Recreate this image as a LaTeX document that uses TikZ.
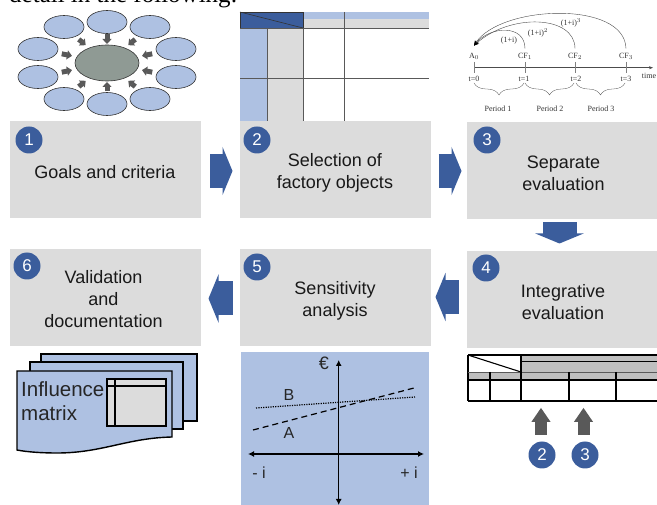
\documentclass[tikz,border=0pt]{standalone}
\usepackage{fontspec}
\setmainfont{Liberation Sans}
\newfontfamily\serifface{Liberation Serif}
\usepackage{xcolor}
\usetikzlibrary{arrows.meta,shapes.geometric,decorations.pathreplacing}
\definecolor{boxgrey}{RGB}{220,220,220}
\definecolor{darkblue}{RGB}{59,93,156}
\definecolor{paleblue}{RGB}{174,193,226}
\definecolor{coregrey}{RGB}{143,154,148}
\definecolor{arrgrey}{RGB}{89,89,89}
\definecolor{headgrey}{RGB}{191,191,191}
\tikzset{
  % Prozessschritt
  stepbox/.style={
    fill=boxgrey,
    minimum width=191pt,
    minimum height=97pt,
    inner sep=0pt,
    outer sep=0pt
  },
  steptext/.style={
    align=center,
    inner sep=0pt,
    text=black!90,
    font=\fontsize{18}{22}\selectfont
  },
  % Nummer
  badge/.style={
    circle,
    fill=darkblue,
    minimum size=27pt,
    inner sep=0pt,
    text=white,
    font=\fontsize{17}{17}\selectfont
  },
  % Blockpfeile
  blockarr/.style={-{Triangle[length=10pt,width=48pt]}, line width=34pt, darkblue},
  greyarr/.style={-{Triangle[length=14pt,width=18pt]}, line width=12pt, arrgrey},
  % Ellipsen
  goal/.style={ellipse, draw=black!80, line width=0.6pt, fill=paleblue,
    minimum width=40pt, minimum height=23pt, inner sep=0pt, outer sep=0pt},
  smallarr/.style={-{Triangle[length=5pt,width=9pt]}, line width=5pt, arrgrey},
  % Zeitstrahl
  timetext/.style={font=\serifface\fontsize{8}{9}\selectfont, text=black!80},
  arcarr/.style={-{Stealth[length=5pt,width=4pt,black]}, line width=0.4pt, black!70},
  % Tabellen
  thinline/.style={line width=0.7pt, black!65},
  thickline/.style={line width=1.1pt, black},
  axisarr/.style={{Latex[length=6pt,width=6pt]}-{Latex[length=6pt,width=6pt]}, line width=1.2pt, black},
  plottext/.style={text=black!85, font=\fontsize{16}{16}\selectfont}
}
\begin{document}
\begin{tikzpicture}[x=1pt, y=-1pt]
    \useasboundingbox (0,0) rectangle (657,505);

    % Kopfzeile
    \node[anchor=base west, inner sep=0pt, font=\serifface\fontsize{25}{25}\selectfont] (headline) at (9,3) {detail in the following:};

    % Panel 1: Ellipsen
    \node[ellipse, draw=black!80, line width=0.6pt, fill=coregrey, minimum width=64pt, minimum height=36pt, inner sep=0pt, outer sep=0pt] (core) at (107,63) {};
    \foreach \i/\x/\y/\s in {1/107/22/1, 2/150/27/4.5, 3/176/49/5, 4/176/77/5, 5/150/99/4.5,
                             6/107/104/1, 7/64/99/4.5, 8/38/77/5, 9/38/49/5, 10/64/27/4.5} {
        \node[goal] (e\i) at (\x,\y) {};
        \draw[smallarr, shorten <=\s pt, shorten >=\s pt] (e\i) -- (core);
    }

    % Panel 2: Matrix
    \begin{scope}[shift={(240,12)}]
        \fill[paleblue] (0,16) rectangle (27.5,109);
        \fill[boxgrey] (27.5,16) rectangle (63,109);
        \fill[paleblue] (63,0) rectangle (189,7);
        \fill[boxgrey] (63,7) rectangle (189,16);
        \fill[darkblue] (0,0) rectangle (63,16);
        \draw[line width=0.6pt, black!80] (0,0) rectangle (63,16);
        \draw[line width=0.6pt, black!80] (0,0) -- (63,16);
        \draw[thinline] (0,16) -- (189,16);
        \draw[thinline] (0,66.5) -- (189,66.5);
        \draw[thinline] (27.5,16) -- (27.5,109);
        \draw[thinline] (63,16) -- (63,109);
        \draw[thinline] (104.5,0) -- (104.5,109);
    \end{scope}

    % Panel 3: Zeitstrahl
    \begin{scope}[shift={(474,0)}]
        \node[timetext, inner sep=7pt] (a0) at (0,56) {A$_0$};
        \node[timetext, inner sep=4pt] (cf1) at (51,56) {CF$_1$};
        \node[timetext, inner sep=4pt] (cf2) at (101,56) {CF$_2$};
        \node[timetext, inner sep=4pt] (cf3) at (152,56) {CF$_3$};
        \draw[arcarr] (cf1.north) .. controls (51,24) and (16,26) .. (a0.north);
        \draw[arcarr] (cf2.north) .. controls (101,15) and (36,13) .. (a0.north);
        \draw[arcarr] (cf3.north) .. controls (151,0) and (26,5) .. (a0.north);
        \node[timetext] (f1) at (35,41) {(1+i)};
        \node[timetext] (f2) at (64,33) {(1+i)$^2$};
        \node[timetext] (f3) at (97,23) {(1+i)$^3$};

        \coordinate (tstart) at (0,67.7);
        \coordinate (tend) at (179,67.7);
        \draw[-{Stealth[length=4pt]}, line width=0.4pt, black!70] (tstart) -- (tend);
        \node[timetext] (timelab) at (175,76) {time};
        \foreach \n/\x/\lx in {0/0/0, 1/51/50, 2/101/102, 3/152/152} {
            \draw[line width=0.3pt, black!50] (\x,62) -- (\x,73);
            \node[timetext] (t\n) at (\lx,79) {t=\n};
        }
        \draw[line width=0.3pt, black!70, decorate, decoration={brace, mirror, amplitude=12pt}] (0,83) -- (50,83);
        \draw[line width=0.3pt, black!70, decorate, decoration={brace, mirror, amplitude=12pt}] (51,83) -- (100,83);
        \draw[line width=0.3pt, black!70, decorate, decoration={brace, mirror, amplitude=12pt}] (102,83) -- (151,83);
        \node[timetext] (p1) at (24,109) {Period 1};
        \node[timetext] (p2) at (76,109) {Period 2};
        \node[timetext] (p3) at (127,109) {Period 3};
    \end{scope}

    % Panel 4: Tabelle
    \begin{scope}[shift={(468,355)}]
        \fill[headgrey] (53,0) rectangle (189,17);
        \fill[headgrey] (0,17) rectangle (189,25);
        \draw[thickline] (0,0) -- (189,0);
        \draw[thickline] (0,46) -- (189,46);
        \draw[thickline] (0,0) -- (0,46);
        \draw[thickline] (0,0) -- (53,17);
        \draw[thickline] (53,6.7) -- (189,6.7);
        \draw[thinline] (0,17) -- (189,17);
        \draw[thickline] (0,25) -- (189,25);
        \draw[thickline] (22,17) -- (22,46);
        \draw[thickline] (53,0) -- (53,46);
        \draw[thickline] (101,17) -- (101,46);
        \draw[thickline] (148,17) -- (148,46);
    \end{scope}
    \node[badge] (b2) at (542,455) {2};
    \node[badge] (b3) at (585,455) {3};
    \draw[greyarr] ([xshift=-1pt, yshift=6.5pt]b2.north) -- ++(0,-27);
    \draw[greyarr] ([xshift=-1.5pt, yshift=6.5pt]b3.north) -- ++(0,-27);

    % Panel 5: Sensitivitaet
    \begin{scope}[shift={(241,352)}]
        \fill[paleblue] (0,0) rectangle (188,153);
        \coordinate (ytop) at (97.7,8);
        \coordinate (ybot) at (97.7,153);
        \coordinate (xleft) at (7,102);
        \coordinate (xright) at (183,102);
        \draw[axisarr] (ybot) -- (ytop);
        \draw[axisarr] (xleft) -- (xright);
        \draw[line width=1.2pt, black, dash pattern=on 6pt off 4pt] (12,78) -- (173,36);
        \draw[line width=1.2pt, black, dash pattern=on 1.2pt off 1.2pt] (15,56) -- (174,45);
        \node[plottext, font=\fontsize{18}{18}\selectfont] (euro) at (83,11) {€};
        \node[plottext] (lb) at (48,43) {B};
        \node[plottext] (la) at (48,81) {A};
        \node[plottext] (mi) at (18,121) {- i};
        \node[plottext] (pi) at (168,121) {+ i};
    \end{scope}

    % Panel 6: Blaetter
    \begin{scope}[shift={(17,354)}]
        \draw[line width=1.4pt, fill=paleblue] (24,0) rectangle (180,67);
        \draw[line width=1.4pt, fill=paleblue] (13,8) rectangle (166,75);
        \draw[line width=1.4pt, fill=paleblue] (0,17) -- (155,17) -- (155,83)
            .. controls (110,84) and (85,99) .. (40,99)
            .. controls (25,99) and (10,98) .. (0,96) -- cycle;
        \draw[line width=1.3pt, fill=boxgrey] (90,25) rectangle (149,72);
        \draw[line width=1.3pt] (90,32) -- (149,32);
        \draw[line width=1.3pt] (98,25) -- (98,72);
        \node[anchor=west, align=left, inner sep=0pt, text=black!85, font=\fontsize{20.5}{24}\selectfont] (inftext) at (4,47) {Influence\\matrix};
    \end{scope}

    % Schritte
    \node[stepbox] (box1) at (105.5,169.5) {};
    \node[stepbox] (box2) at (335,169.5) {};
    \node[stepbox] (box3) at (562,171) {};
    \node[stepbox] (box4) at (562,300) {};
    \node[stepbox] (box5) at (335,298) {};
    \node[stepbox] (box6) at (105,297.5) {};

    \node[steptext] (lab1) at (105,172.5) {Goals and criteria};
    \node[steptext] (lab2) at (335,172.5) {Selection of\\factory objects};
    \node[steptext] (lab3) at (563.5,173) {Separate\\evaluation};
    \node[steptext] (lab4) at (563,302) {Integrative\\evaluation};
    \node[steptext] (lab5) at (335,300.5) {Sensitivity\\analysis};
    \node[steptext] (lab6) at (103.5,299.5) {Validation\\and\\documentation};

    \node[badge] (n1) at (29,140) {1};
    \node[badge] (n2) at (257,140) {2};
    \node[badge] (n3) at (487,140) {3};
    \node[badge] (n4) at (486,268) {4};
    \node[badge] (n5) at (257,267) {5};
    \node[badge] (n6) at (27,266) {6};

    \draw[blockarr] ([xshift=9pt, yshift=-1.5pt]box1.east) -- ([xshift=-7pt, yshift=-1.5pt]box2.west);
    \draw[blockarr] ([xshift=8pt, yshift=-1.5pt]box2.east) -- ([xshift=-5pt]box3.west);
    \draw[blockarr] ([xshift=-2.5pt, yshift=-3pt]box3.south) -- ([xshift=-2.5pt, yshift=8pt]box4.north);
    \draw[blockarr] ([xshift=-8pt, yshift=3pt]box4.west) -- ([xshift=5pt, yshift=1pt]box5.east);
    \draw[blockarr] ([xshift=-7pt, yshift=-0.5pt]box5.west) -- ([xshift=8pt, yshift=-1pt]box6.east);
\end{tikzpicture}
\end{document}
